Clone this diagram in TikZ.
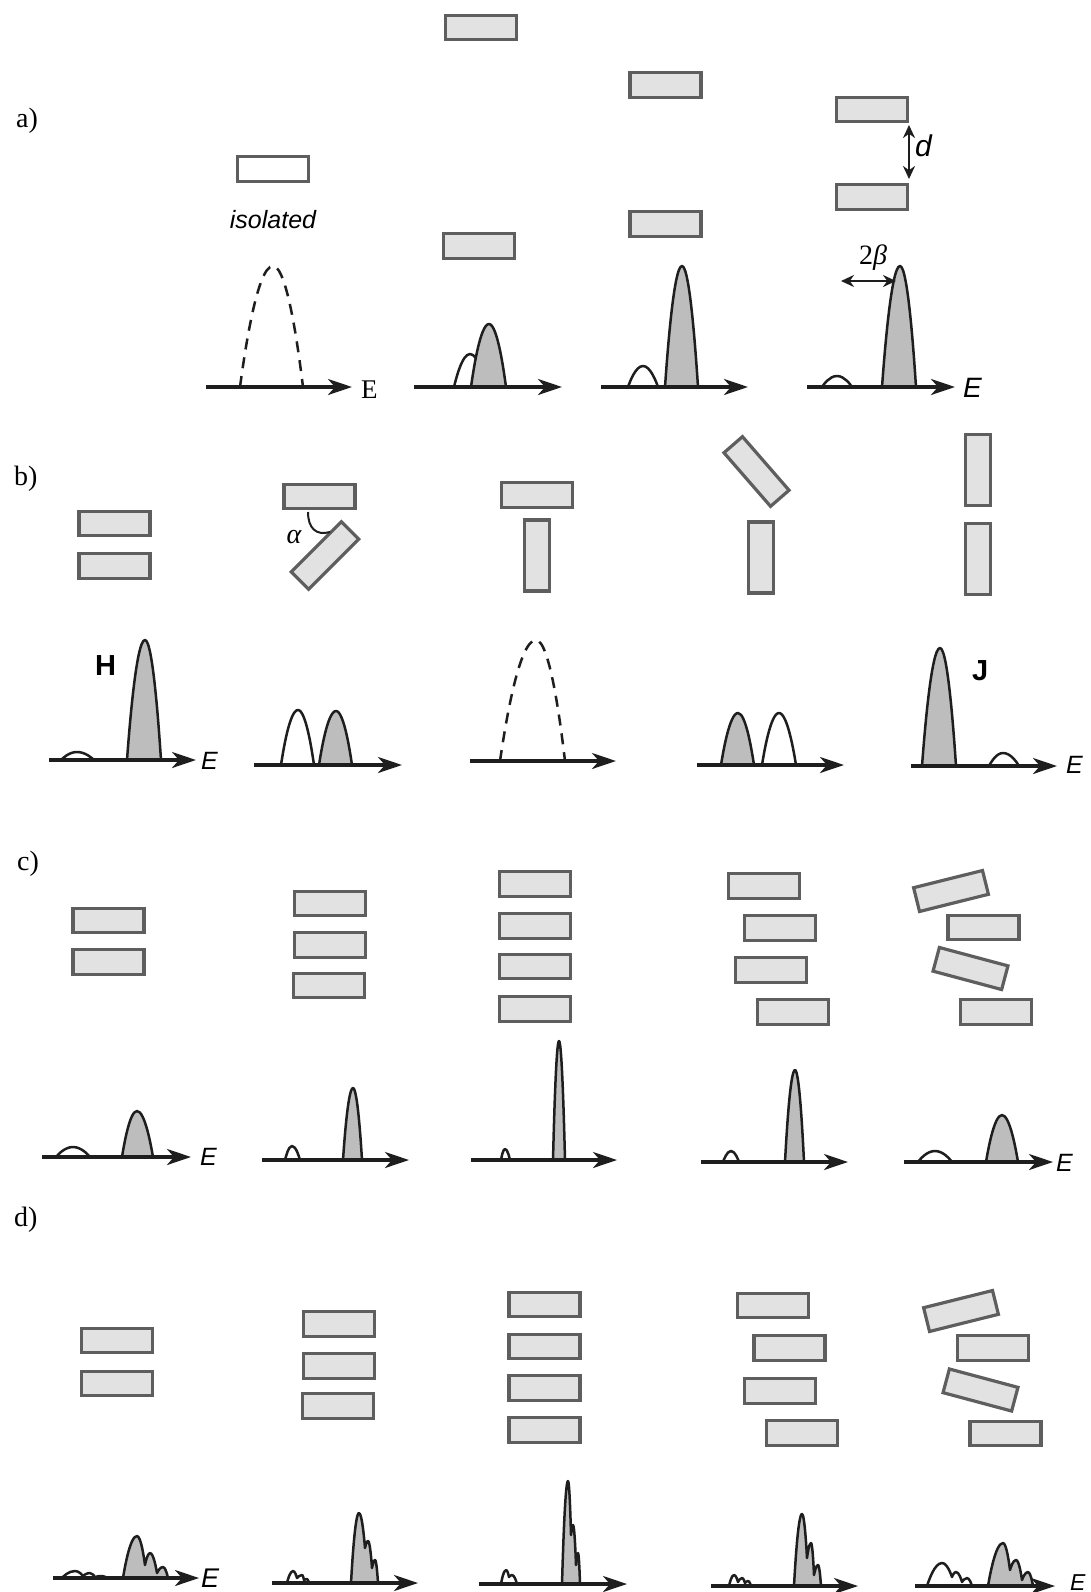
\documentclass[tikz,border=0pt]{standalone}
\usepackage{fontspec}
\setmainfont{Liberation Serif}
\setsansfont{Liberation Sans}
\usetikzlibrary{arrows.meta}
\definecolor{rectfill}{HTML}{E2E2E2}
\definecolor{rectline}{HTML}{5E5E5E}
\definecolor{peakfill}{HTML}{BDBDBD}
\definecolor{ink}{HTML}{1E1E1E}
\newcommand\mypeak[6][pkg]{\filldraw[#1] (#2,#6) parabola bend (#3,#4) (#5,#6) -- cycle;}
\begin{document}
\begin{tikzpicture}[x=1pt,y=-1pt,
  mol/.style={draw=rectline, fill=rectfill, line width=3.2pt, minimum width=71pt, minimum height=24.5pt, inner sep=0pt, rectangle},
  ax/.style={draw=ink, line width=3.4pt, -{Stealth[length=24pt,width=16pt,inset=7pt]}},
  pkg/.style={draw=ink, fill=peakfill, line width=2.5pt, line join=round},
  pkw/.style={draw=ink, fill=white, line width=2.5pt, line join=round},
  pkd/.style={draw=ink, line width=2.5pt, dash pattern=on 11pt off 8pt},
  dbl/.style={draw=ink, line width=2.4pt, {Stealth[length=13pt,width=12pt]}-{Stealth[length=13pt,width=12pt]}},
  panel/.style={anchor=base west, inner sep=0pt, font=\fontsize{28}{30}\selectfont},
  esf/.style={anchor=base west, inner sep=0pt, font=\sffamily\itshape\fontsize{25}{28}\selectfont},
]
\useasboundingbox (0,0) rectangle (1090,1592);
\fill[white] (0,0) rectangle (1090,1592);

% ---------------- panel a ----------------
\node[panel] (la) at (16,128) {a)};
\node[mol, fill=white] (a1) at (273,169) {};
\node[anchor=base, inner sep=0pt, font=\sffamily\itshape\fontsize{25}{28}\selectfont] (iso) at (273,228) {isolated};
\node[mol] (a2t) at (481,27.5) {};
\node[mol] (a2b) at (479,246) {};
\node[mol] (a3t) at (665.5,85) {};
\node[mol] (a3b) at (665.5,224) {};
\node[mol] (a4t) at (872,109.5) {};
\node[mol] (a4b) at (872,197) {};
\coordinate (dA) at (909,125);
\coordinate (dB) at (909,179);
\draw[dbl] (dA) -- (dB);
\node[anchor=base west, inner sep=0pt, font=\sffamily\itshape\fontsize{30}{32}\selectfont] (dlab) at (915,157) {d};

\draw[pkd] (240,387) parabola bend (273,266) (303,387);
\draw[ax] (206,387) -- (352,387);
\node[anchor=base west, inner sep=0pt, font=\fontsize{27}{30}\selectfont] (ea1) at (361,398) {E};

\mypeak[pkw]{454}{470}{354}{487}{387}
\mypeak{471}{489}{324}{506}{387}
\draw[ax] (414,387) -- (562,387);

\mypeak[pkw]{628}{643}{366}{658}{387}
\mypeak{665}{682}{266}{698}{387}
\draw[ax] (601,387) -- (748,387);

\mypeak[pkw]{822}{837}{376}{852}{387}
\mypeak{882}{900}{266}{916}{387}
\draw[ax] (807,387) -- (955,387);
\node[anchor=base west, inner sep=0pt, font=\sffamily\itshape\fontsize{28}{30}\selectfont] (ea4) at (963,397) {E};
\coordinate (bA) at (841,281);
\coordinate (bB) at (896,281);
\draw[dbl] (bA) -- (bB);
\node[anchor=base, inner sep=0pt, font=\fontsize{28}{30}\selectfont] (beta) at (873,264) {2\textit{β}};

% ---------------- panel b ----------------
\node[panel] (lb) at (14,485) {b)};
\node[mol] (b1t) at (114.5,523.5) {};
\node[mol] (b1b) at (114.5,566) {};
\node[mol] (b2t) at (319.5,496.5) {};
\node[mol, rotate=45] (b2b) at (325,555.5) {};
\draw[draw=ink, line width=2pt] (308,512) .. controls (308,528) and (316,536) .. (330,532);
\node[anchor=base, inner sep=0pt, font=\itshape\fontsize{28}{30}\selectfont] (alpha) at (294,543) {α};
\node[mol] (b3t) at (537,495) {};
\node[mol, rotate=90] (b3b) at (537,555.5) {};
\node[mol, rotate=-49] (b4t) at (756.5,471.5) {};
\node[mol, rotate=90] (b4b) at (761,557.5) {};
\node[mol, rotate=90] (b5t) at (978,470) {};
\node[mol, rotate=90] (b5b) at (978,559) {};

\mypeak[pkw]{61}{77}{752}{94}{760}
\mypeak{127}{145}{640}{161}{760}
\draw[ax] (49,760) -- (196,760);
\node[anchor=base west, inner sep=0pt, font=\sffamily\bfseries\fontsize{29}{30}\selectfont] (H) at (95,675) {H};
\node[esf] (eb1) at (201,769) {E};

\mypeak[pkw]{281}{298}{710}{314}{765}
\mypeak{319}{336}{711}{352}{765}
\draw[ax] (254,765) -- (402,765);

\draw[pkd] (500,761) parabola bend (536,640) (565,761);
\draw[ax] (470,761) -- (616,761);

\mypeak{721}{738}{713}{754}{765}
\mypeak[pkw]{762}{779}{713}{796}{765}
\draw[ax] (697,765) -- (844,765);

\mypeak{922}{940}{648}{956}{766}
\mypeak[pkw]{989}{1003}{753}{1019}{766}
\draw[ax] (911,766) -- (1057,766);
\node[anchor=base west, inner sep=0pt, font=\sffamily\bfseries\fontsize{29}{30}\selectfont] (J) at (972,680) {J};
\node[esf] (eb5) at (1066,773) {E};

% ---------------- panel c ----------------
\node[panel] (lc) at (17,870) {c)};
\node[mol] (c1a) at (108.5,920.5) {};
\node[mol] (c1b) at (108.5,962) {};
\node[mol] (c2a) at (330,903.5) {};
\node[mol] (c2b) at (330,945) {};
\node[mol] (c2c) at (329,985.5) {};
\node[mol] (c3a) at (535,884) {};
\node[mol] (c3b) at (535,926) {};
\node[mol] (c3c) at (535,966.5) {};
\node[mol] (c3d) at (535,1009) {};
\node[mol] (c4a) at (764,886) {};
\node[mol] (c4b) at (780,928) {};
\node[mol] (c4c) at (771,970) {};
\node[mol] (c4d) at (793,1012) {};
\node[mol, rotate=14] (c5a) at (951,891) {};
\node[mol] (c5b) at (983.5,927.5) {};
\node[mol, rotate=-15] (c5c) at (970.5,968.5) {};
\node[mol] (c5d) at (996,1012) {};

\mypeak[pkw]{56}{73}{1147}{90}{1157}
\mypeak{122}{137}{1111}{153}{1157}
\draw[ax] (42,1157) -- (191,1157);
\node[esf] (ec1) at (200,1165) {E};

\mypeak[pkw]{285}{292}{1146}{300}{1160}
\mypeak{343}{353}{1088}{362}{1160}
\draw[ax] (262,1160) -- (409,1160);

\mypeak[pkw]{501}{505}{1149}{510}{1160}
\mypeak{553}{559}{1041}{565}{1160}
\draw[ax] (471,1160) -- (617,1160);

\mypeak[pkw]{723}{731}{1151}{739}{1162}
\mypeak{785}{795}{1070}{804}{1162}
\draw[ax] (701,1162) -- (848,1162);

\mypeak[pkw]{918}{935}{1151}{952}{1162}
\mypeak{986}{1002}{1115}{1018}{1162}
\draw[ax] (904,1162) -- (1053,1162);
\node[esf] (ec5) at (1056,1171) {E};

% ---------------- panel d ----------------
\node[panel] (ld) at (14,1226) {d)};
\node[mol] (d1a) at (117,1340.5) {};
\node[mol] (d1b) at (117,1383.5) {};
\node[mol] (d2a) at (339,1324) {};
\node[mol] (d2b) at (339,1366) {};
\node[mol] (d2c) at (338,1406) {};
\node[mol] (d3a) at (544.5,1304.5) {};
\node[mol] (d3b) at (544.5,1346.5) {};
\node[mol] (d3c) at (544.5,1388) {};
\node[mol] (d3d) at (544.5,1430) {};
\node[mol] (d4a) at (773,1305.5) {};
\node[mol] (d4b) at (789.5,1348) {};
\node[mol] (d4c) at (780,1391) {};
\node[mol] (d4d) at (802,1433) {};
\node[mol, rotate=14] (d5a) at (961,1311) {};
\node[mol] (d5b) at (993,1348) {};
\node[mol, rotate=-15] (d5c) at (980.5,1390) {};
\node[mol] (d5d) at (1005.5,1433.5) {};

\filldraw[pkw] (62,1578) parabola bend (75,1571) (83,1576) parabola bend (90,1573) (95,1577) parabola bend (102,1576) (107,1578) -- cycle;
\filldraw[pkg] (123,1578) parabola bend (137,1536) (145,1565) parabola bend (150,1553) (157,1573) parabola bend (163,1567) (168,1578) -- cycle;
\draw[ax] (53,1578) -- (199,1578);
\node[esf, font=\sffamily\itshape\fontsize{27}{28}\selectfont] (ed1) at (201,1587) {E};

\filldraw[pkw] (287,1583) parabola bend (293,1571) (297,1578) parabola bend (302,1575) (304,1580) parabola bend (307,1579) (309,1583) -- cycle;
\filldraw[pkg] (351,1583) parabola bend (359,1513) (365,1548) parabola bend (368,1541) (372,1568) parabola bend (375,1560) (378,1583) -- cycle;
\draw[ax] (272,1583) -- (418,1583);

\filldraw[pkw] (501,1584) parabola bend (506,1570) (509,1577) parabola bend (512,1575) (517,1584) -- cycle;
\filldraw[pkg] (562,1584) parabola bend (568,1481) (571,1535) parabola bend (573,1525) (576,1565) parabola bend (578,1553) (580,1584) -- cycle;
\draw[ax] (479,1584) -- (627,1584);

\filldraw[pkw] (729,1586) parabola bend (734,1575) (738,1582) parabola bend (742,1578) (745,1583) parabola bend (748,1581) (751,1586) -- cycle;
\filldraw[pkg] (794,1586) parabola bend (802,1514) (807,1558) parabola bend (811,1543) (814,1575) parabola bend (818,1565) (821,1586) -- cycle;
\draw[ax] (711,1586) -- (858,1586);

\filldraw[pkw] (927,1586) parabola bend (942,1563) (952,1577) parabola bend (956,1572) (962,1582) parabola bend (967,1578) (972,1586) -- cycle;
\filldraw[pkg] (988,1586) parabola bend (1003,1543) (1010,1570) parabola bend (1016,1560) (1022,1580) parabola bend (1028,1572) (1033,1586) -- cycle;
\draw[ax] (915,1586) -- (1055,1586);
\node[esf, font=\sffamily\itshape\fontsize{23}{26}\selectfont] (ed5) at (1070,1590) {E};
\end{tikzpicture}
\end{document}
